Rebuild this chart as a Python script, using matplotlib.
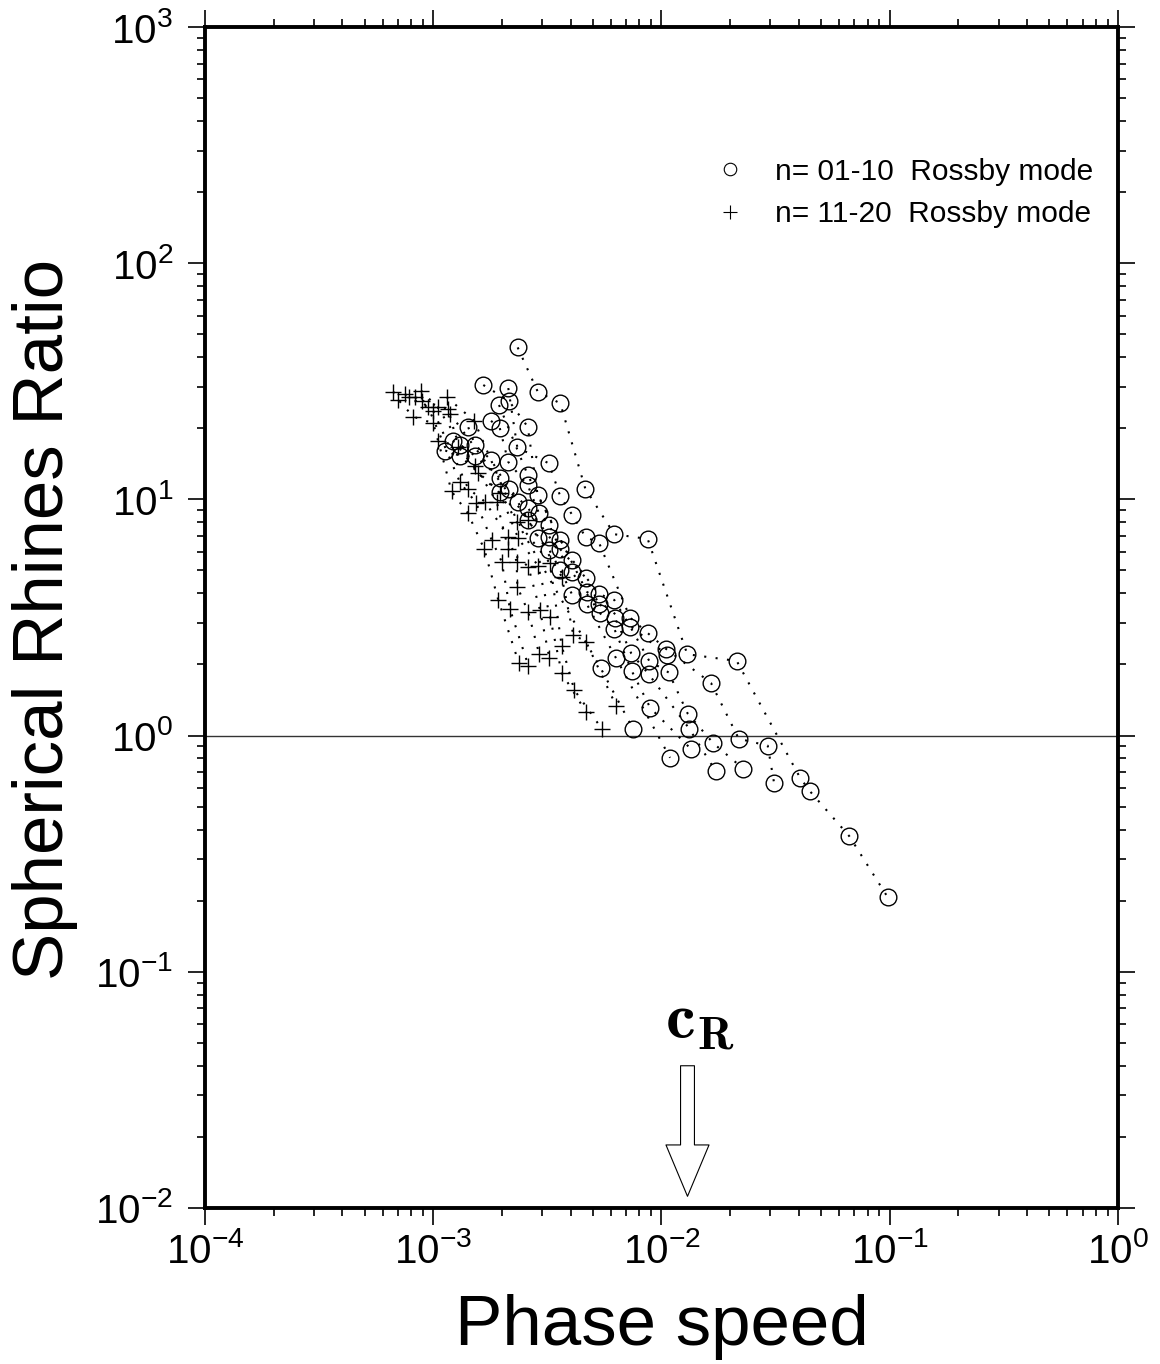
import matplotlib
matplotlib.use('Agg')
import matplotlib.pyplot as plt
from matplotlib.lines import Line2D
from matplotlib.ticker import LogLocator, NullFormatter
import numpy as np

plt.rcParams['font.family'] = ['Liberation Sans', 'DejaVu Sans']
plt.rcParams['mathtext.fontset'] = 'custom'
plt.rcParams['mathtext.rm'] = 'Liberation Sans'
plt.rcParams['mathtext.it'] = 'Liberation Sans:italic'
plt.rcParams['mathtext.bf'] = 'Liberation Sans:bold'

# n = 01-10 Rossby modes (circles), one list per dotted chain
circ_speed = [
    [2.344e-3, 2.868e-3, 3.602e-3, 4.637e-3, 6.213e-3, 8.70e-3, 1.297e-2, 2.136e-2, 4.044e-2, 4.472e-2, 6.65e-2, 9.79e-2],
    [2.132e-3, 2.335e-3, 3.214e-3, 3.602e-3, 4.066e-3, 4.655e-3, 5.323e-3, 7.278e-3, 8.727e-3, 1.046e-2, 1.648e-2, 2.180e-2, 2.920e-2, 3.112e-2],
    [1.657e-3, 2.141e-3, 2.593e-3, 2.868e-3, 3.602e-3, 4.066e-3, 5.339e-3, 6.213e-3, 7.30e-3, 8.84e-3, 1.075e-2, 1.302e-2, 1.687e-2, 2.282e-2],
    [1.791e-3, 1.955e-3, 2.132e-3, 2.593e-3, 2.906e-3, 3.224e-3, 3.602e-3, 4.655e-3, 5.339e-3, 6.257e-3, 7.37e-3, 8.79e-3, 1.323e-2, 1.728e-2],
    [1.424e-3, 1.523e-3, 1.791e-3, 2.141e-3, 2.593e-3, 3.224e-3, 4.066e-3, 5.377e-3, 6.213e-3, 7.405e-3, 8.93e-3, 1.350e-2],
    [1.217e-3, 1.310e-3, 1.523e-3, 1.961e-3, 2.344e-3, 2.609e-3, 2.876e-3, 3.224e-3, 3.602e-3, 4.066e-3, 4.703e-3, 6.30e-3, 1.090e-2],
    [1.129e-3, 1.310e-3, 1.961e-3, 5.414e-3, 7.50e-3],
    [1.942e-3, 2.593e-3, 4.703e-3, 1.060e-2],
]
circ_ratio = [
    [44.0, 28.6, 25.5, 11.1, 7.12, 6.80, 2.21, 2.07, 0.664, 0.581, 0.375, 0.207],
    [29.6, 16.6, 14.2, 10.3, 8.59, 6.91, 6.56, 3.16, 2.71, 2.33, 1.67, 0.970, 0.906, 0.632],
    [30.5, 26.2, 20.3, 10.4, 6.73, 5.54, 3.97, 3.75, 2.89, 2.07, 1.85, 1.24, 0.928, 0.724],
    [21.5, 20.1, 14.4, 11.5, 8.73, 7.79, 6.15, 4.66, 3.61, 3.14, 2.23, 1.82, 1.07, 0.706],
    [20.2, 17.0, 14.7, 11.1, 9.22, 6.95, 4.91, 3.30, 2.83, 1.88, 1.31, 0.875],
    [17.7, 17.0, 15.3, 12.3, 9.78, 8.18, 6.84, 6.11, 5.02, 3.94, 3.61, 2.14, 0.806],
    [16.1, 15.3, 10.7, 1.93, 1.07],
    [25.1, 12.7, 4.07, 2.19],
]

# n = 11-20 Rossby modes (pluses)
plus_speed = [
    [6.68e-4, 7.03e-4, 8.18e-4, 1.000e-3, 1.052e-3, 1.204e-3, 1.415e-3, 1.674e-3, 1.928e-3, 2.375e-3],
    [7.52e-4, 7.86e-4, 9.51e-4, 1.310e-3, 1.539e-3, 1.804e-3, 1.995e-3, 2.169e-3, 2.609e-3],
    [8.32e-4, 1.000e-3, 1.424e-3, 1.685e-3, 2.132e-3, 2.320e-3, 2.335e-3, 2.609e-3, 2.914e-3],
    [8.84e-4, 1.046e-3, 1.523e-3, 1.897e-3, 2.132e-3, 2.609e-3, 2.935e-3, 3.224e-3],
    [8.95e-4, 1.164e-3, 1.288e-3, 1.575e-3, 1.961e-3, 2.358e-3, 2.885e-3, 3.247e-3, 3.654e-3, 4.669e-3],
    [1.145e-3, 1.513e-3, 2.335e-3, 3.247e-3, 3.654e-3, 4.150e-3, 5.47e-3],
    [1.184e-3, 2.609e-3, 3.654e-3, 4.108e-3, 4.669e-3, 6.32e-3],
]
plus_ratio = [
    [28.6, 26.4, 22.4, 21.0, 17.6, 10.8, 8.78, 6.15, 3.75, 2.02],
    [27.9, 27.1, 24.5, 11.8, 9.68, 6.73, 5.45, 3.43, 1.98],
    [27.1, 23.7, 11.1, 9.78, 6.95, 5.45, 4.27, 3.33, 2.21],
    [28.9, 24.5, 13.8, 9.78, 6.15, 5.19, 3.40, 2.14],
    [26.2, 24.1, 16.7, 12.9, 10.6, 6.84, 5.22, 3.19, 1.84, 1.26],
    [27.1, 21.5, 8.05, 5.36, 2.40, 1.56, 1.07],
    [23.1, 8.18, 4.71, 2.67, 2.50, 1.34],
]

legend_labels = ['n= 01-10  Rossby mode', 'n= 11-20  Rossby mode']

c_R = 1.30e-2          # Rossby phase speed marked by the arrow
arrow_top = 0.040
arrow_tip = 0.0112

dotted = (0, (1, 4.5))

fig = plt.figure(figsize=(11.6, 13.64), dpi=100)
ax = fig.add_axes([0.1767, 0.1144, 0.7871, 0.8658])
ax.set_xscale('log')
ax.set_yscale('log')

for cs, rs in zip(circ_speed, circ_ratio):
    ax.plot(cs, rs, ls=dotted, lw=1.5, color='k', zorder=2)
    ax.plot(cs, rs, ls='none', marker='o', ms=12, mfc='none', mec='k', mew=1.0, zorder=3)

for cs, rs in zip(plus_speed, plus_ratio):
    ax.plot(cs, rs, ls=dotted, lw=1.5, color='k', zorder=2)
    ax.plot(cs, rs, ls='none', marker='+', ms=12, color='k', mew=1.0, zorder=3)

ax.axhline(1.0, color='#333333', lw=1.0, zorder=1)

ax.set_xlim(1e-4, 1)
ax.set_ylim(1e-2, 1e3)

for axis in (ax.xaxis, ax.yaxis):
    axis.set_major_locator(LogLocator(base=10, numticks=12))
    axis.set_minor_locator(LogLocator(base=10, subs=np.arange(2, 10), numticks=12))
    axis.set_minor_formatter(NullFormatter())

ax.tick_params(which='both', direction='out', top=True, right=True, width=1.2, color='k')
ax.tick_params(which='major', length=12, labelsize=29)
ax.tick_params(which='minor', length=5.8)
ax.tick_params(axis='x', pad=5)
ax.tick_params(axis='y', pad=11)
for sp in ax.spines.values():
    sp.set_linewidth(2.8)

handles = [Line2D([], [], marker='o', ls='none', mfc='none', mec='k', ms=9, mew=0.8),
           Line2D([], [], marker='+', ls='none', color='k', ms=10, mew=0.8)]
ax.legend(handles, legend_labels, loc='upper left', bbox_to_anchor=(0.5586, 0.8895),
          frameon=False, fontsize=21.5, handlelength=1.0, handletextpad=1.0,
          labelspacing=0.5, borderpad=0, borderaxespad=0)

ax.annotate('', xy=(c_R, arrow_tip), xytext=(c_R, arrow_top),
            arrowprops=dict(arrowstyle='simple,tail_width=1.0,head_width=3.1,head_length=3.7',
                            fc='white', ec='k', lw=0.8, shrinkA=0, shrinkB=0,
                            mutation_scale=10))
ax.annotate(r'$\mathbf{c}_{\mathbf{R}}$', xy=(c_R, arrow_top), xytext=(9, 20),
            textcoords='offset points', ha='center', va='baseline',
            fontsize=48, math_fontfamily='cm')

fig.text(45 / 1160, 1 - 619 / 1364, 'Spherical Rhines Ratio', rotation=90,
         ha='center', va='center', fontsize=51)
fig.text(662 / 1160, 1 - 1345 / 1364, 'Phase speed', ha='center', va='baseline', fontsize=51)

fig.savefig('out.png', dpi=100)
